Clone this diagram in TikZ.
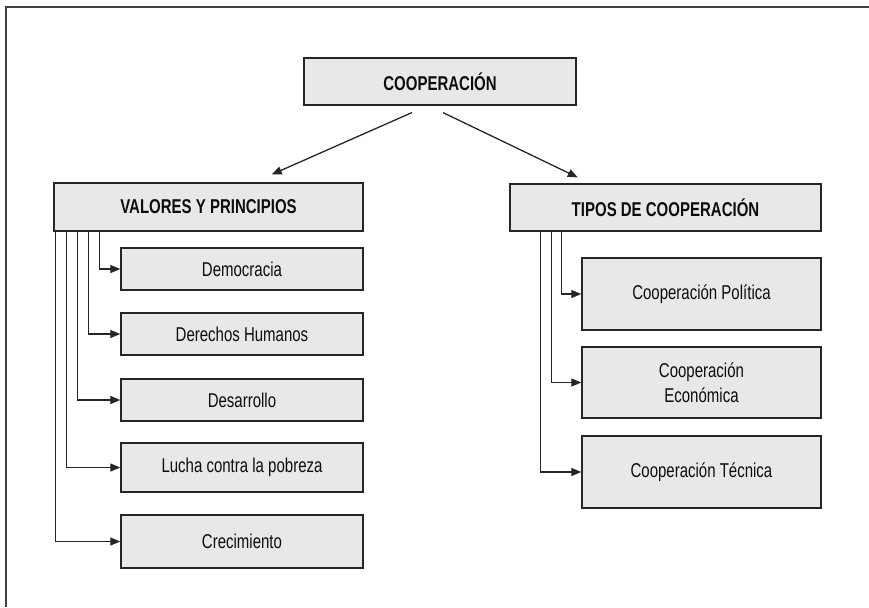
\documentclass[tikz,border=0pt]{standalone}
\usepackage{fontspec}
\setmainfont{Liberation Sans}[FakeStretch=0.75]
\usepackage{tikz}
\usetikzlibrary{positioning, arrows.meta}

\tikzset{
  box/.style = {draw=black!85, line width=0.7pt, fill=black!9, text=black!95,
    align=center, inner sep=0pt},
  head/.style = {box, font=\bfseries\fontsize{10}{12}\selectfont},
  item/.style = {box, font=\fontsize{10}{12.5}\selectfont},
  link/.style = {draw=black!85, line width=0.65pt,
    -{Triangle[length=5pt, width=4pt]}},
  pageedge/.style = {draw=black!75, line width=1pt}
}

\begin{document}
\begin{tikzpicture} [x=0.5pt, y=-0.5pt, on grid]

        \useasboundingbox (0,0) rectangle (869,607);
        \draw [pageedge] (5.5,607) |- (869,6.5);

        \node (coop) [head, minimum width=136pt, minimum height=23.5pt] at (440,81.5) {COOPERACIÓN};
        \node (val) [head, minimum width=154.5pt, minimum height=24pt] at (208.5,207) {VALORES Y PRINCIPIOS};
        \node (tip) [head, minimum width=155.5pt, minimum height=23.5pt] at (665.5,207.5) {TIPOS DE COOPERACIÓN};

        \node (dem) [item, minimum width=121pt, minimum height=21pt] at (242,269) {Democracia};
        \node (der) [item, minimum width=121pt, minimum height=21pt, below = 32.5pt of dem] {Derechos Humanos};
        \node (des) [item, minimum width=121pt, minimum height=21pt, below = 33pt of der] {Desarrollo};
        \node (luc) [item, minimum width=121pt, minimum height=24.5pt, below = 33.75pt of des] {Lucha contra la pobreza};
        \node (cre) [item, minimum width=121pt, minimum height=26.5pt, below = 37pt of luc] {Crecimiento};

        \node (pol) [item, minimum width=119.5pt, minimum height=36pt] at (701.5,294) {Cooperación Política};
        \node (eco) [item, minimum width=119.5pt, minimum height=35.5pt, below = 44.25pt of pol] {Cooperación\\Económica};
        \node (tec) [item, minimum width=119.5pt, minimum height=36pt, below = 44.75pt of eco] {Cooperación Técnica};

        \draw [link, shorten <=8.5pt, shorten >=9.7pt] ([xshift=-6.25pt]coop.south) -- ([xshift=22.75pt]val.north);
        \draw [link, shorten <=8pt, shorten >=6.8pt] ([xshift=-5.65pt]coop.south) -- ([xshift=-37.75pt]tip.north);

        \draw [link] ([xshift=23pt]val.south west) |- (dem);
        \draw [link] ([xshift=17.5pt]val.south west) |- (der);
        \draw [link] ([xshift=12pt]val.south west) |- (des);
        \draw [link] ([xshift=6.5pt]val.south west) |- (luc);
        \draw [link] ([xshift=1pt]val.south west) |- (cre);

        \draw [link] ([xshift=26pt]tip.south west) |- (pol);
        \draw [link] ([xshift=21pt]tip.south west) |- (eco);
        \draw [link] ([xshift=15.5pt]tip.south west) |- (tec);

\end{tikzpicture}
\end{document}
